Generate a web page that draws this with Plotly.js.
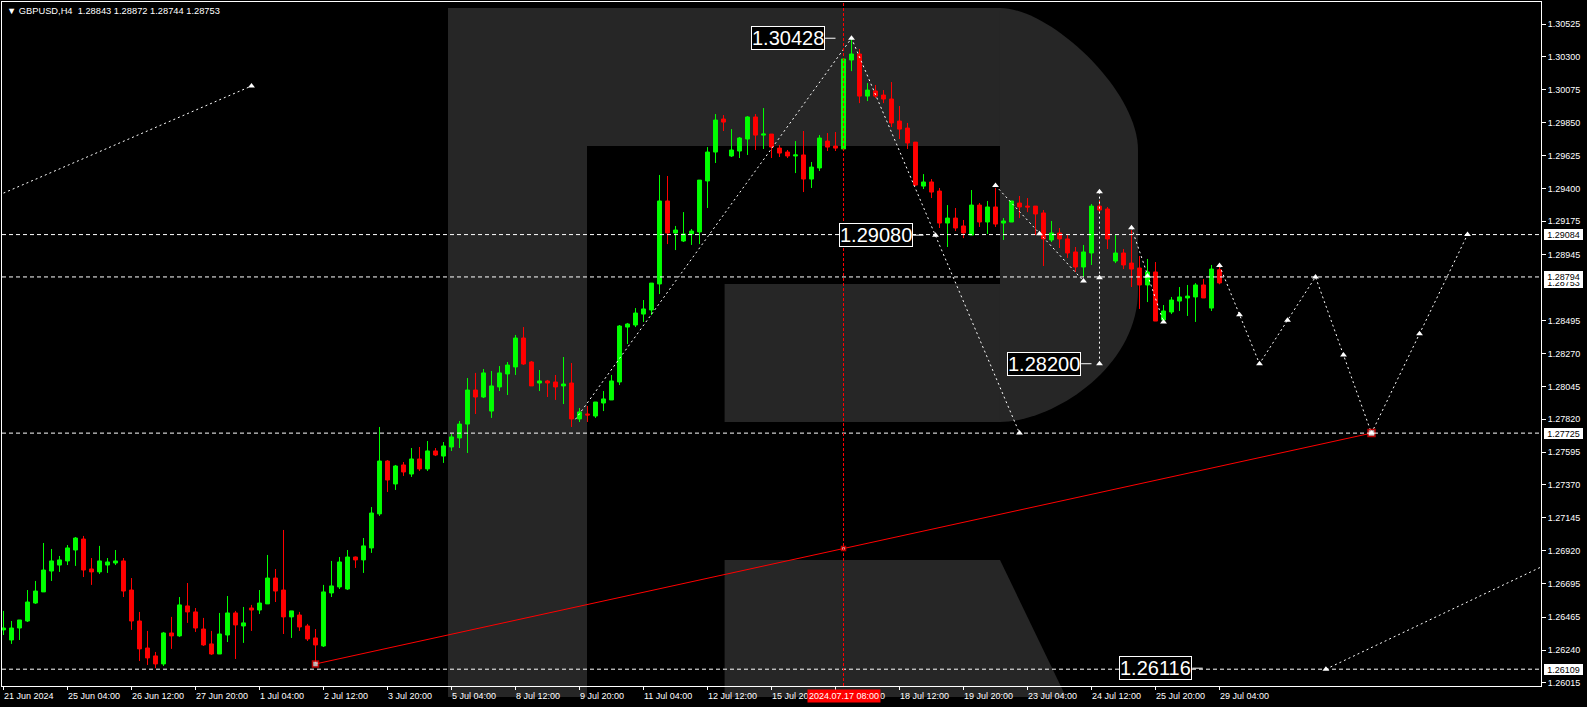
<!DOCTYPE html>
<html><head><meta charset="utf-8">
<script src="https://cdn.plot.ly/plotly-3.0.1.min.js"></script>
<style>html,body{margin:0;padding:0;background:#000;overflow:hidden}#chart{width:1587px;height:707px}</style>
</head><body><div id="chart"></div>
<script>
const symbolName = 'GBPUSD,H4';

const opens = [1.26378,1.26309,1.26391,1.26439,1.26562,1.26638,1.26781,1.26822,1.26850,1.26925,
1.27000,1.26795,1.26775,1.26822,1.26836,1.26850,1.26651,1.26439,1.26254,1.26200,
1.26145,1.26357,1.26337,1.26542,1.26501,1.26384,1.26282,1.26213,1.26343,1.26494,
1.26405,1.26528,1.26514,1.26556,1.26733,1.26651,1.26467,1.26480,1.26405,1.26323,
1.26268,1.26631,1.26672,1.26658,1.26877,1.26857,1.26939,1.27172,1.27534,1.27377,
1.27507,1.27445,1.27548,1.27480,1.27603,1.27568,1.27630,1.27692,1.27787,1.28020,
1.27972,1.27876,1.28041,1.28130,1.28178,1.28376,1.28212,1.28068,1.28082,1.28075,
1.28048,1.28068,1.27822,1.27856,1.27842,1.27931,1.27952,1.28075,1.28451,1.28465,
1.28540,1.28568,1.28746,1.29314,1.29095,1.29040,1.29088,1.29102,1.29451,1.29649,
1.29875,1.29622,1.29656,1.29738,1.29889,1.29765,1.29772,1.29676,1.29649,1.29622,
1.29629,1.29464,1.29540,1.29724,1.29690,1.29670,1.30279,1.30320,1.30032,1.30067,
1.30039,1.30012,1.29861,1.29813,1.29717,1.29416,1.29444,1.29382,1.29163,1.29197,
1.29143,1.29081,1.29286,1.29170,1.29273,1.29163,1.29170,1.29300,1.29279,1.29279,
1.29232,1.29047,1.29095,1.29054,1.28965,1.28862,1.28958,1.29279,1.29259,1.28903,
1.28958,1.28889,1.28855,1.28739,1.28828,1.28499,1.28554,1.28629,1.28650,1.28657,
1.28739,1.28581,1.28843];
const highs = [1.26508,1.26439,1.26446,1.26651,1.26713,1.26973,1.26932,1.26884,1.26959,1.27014,
1.27021,1.26870,1.26953,1.26870,1.26925,1.26870,1.26733,1.26501,1.26371,1.26227,
1.26364,1.26467,1.26603,1.26699,1.26528,1.26460,1.26371,1.26494,1.26610,1.26508,
1.26535,1.26549,1.26651,1.26891,1.26795,1.27062,1.26508,1.26501,1.26419,1.26384,
1.26686,1.26850,1.26877,1.26925,1.26880,1.27007,1.27219,1.27767,1.27540,1.27507,
1.27527,1.27623,1.27630,1.27671,1.27623,1.27664,1.27719,1.27808,1.28102,1.28137,
1.28164,1.28150,1.28184,1.28212,1.28397,1.28451,1.28219,1.28157,1.28089,1.28123,
1.28246,1.28205,1.27897,1.27911,1.27938,1.28013,1.28123,1.28465,1.28479,1.28581,
1.28636,1.28752,1.29492,1.29485,1.29143,1.29238,1.29122,1.29457,1.29683,1.29909,
1.29902,1.29806,1.29752,1.29895,1.29909,1.29950,1.29772,1.29697,1.29663,1.29724,
1.29793,1.29581,1.29765,1.29779,1.29786,1.30286,1.30428,1.30354,1.30121,1.30108,
1.30073,1.30128,1.29964,1.29848,1.29717,1.29498,1.29464,1.29403,1.29286,1.29266,
1.29184,1.29389,1.29300,1.29314,1.29403,1.29197,1.29314,1.29348,1.29334,1.29279,
1.29252,1.29177,1.29129,1.29081,1.28999,1.29013,1.29293,1.29320,1.29273,1.29081,
1.28985,1.29115,1.28937,1.28917,1.28896,1.28602,1.28657,1.28725,1.28739,1.28752,
1.28780,1.28876,1.28872];
const lows = [1.26343,1.26282,1.26309,1.26432,1.26556,1.26638,1.26713,1.26775,1.26822,1.26816,
1.26740,1.26686,1.26761,1.26768,1.26822,1.26603,1.26378,1.26165,1.26138,1.26116,
1.26131,1.26248,1.26330,1.26426,1.26364,1.26268,1.26207,1.26213,1.26295,1.26179,
1.26289,1.26371,1.26487,1.26556,1.26569,1.26350,1.26323,1.26371,1.26302,1.26150,
1.26261,1.26603,1.26658,1.26651,1.26802,1.26768,1.26905,1.27158,1.27322,1.27336,
1.27432,1.27425,1.27466,1.27466,1.27568,1.27521,1.27603,1.27623,1.27589,1.27856,
1.27965,1.27829,1.28013,1.27986,1.28123,1.28191,1.28048,1.28013,1.27972,1.27952,
1.27924,1.27767,1.27801,1.27801,1.27829,1.27876,1.27952,1.28054,1.28335,1.28451,
1.28486,1.28533,1.28677,1.29019,1.28978,1.29033,1.29013,1.29019,1.29266,1.29574,
1.29793,1.29615,1.29608,1.29629,1.29663,1.29670,1.29608,1.29615,1.29608,1.29505,
1.29375,1.29403,1.29519,1.29656,1.29656,1.29670,1.30203,1.29984,1.29998,1.30019,
1.29984,1.29820,1.29738,1.29670,1.29416,1.29396,1.29334,1.29129,1.28999,1.29108,
1.29060,1.29081,1.29136,1.29088,1.29136,1.29047,1.29170,1.29197,1.29238,1.29081,
1.28869,1.29033,1.28992,1.28924,1.28828,1.28794,1.28876,1.29238,1.28985,1.28889,
1.28848,1.28725,1.28575,1.28622,1.28492,1.28492,1.28540,1.28561,1.28527,1.28486,
1.28650,1.28561,1.28744];
const closes = [1.26391,1.26391,1.26446,1.26569,1.26644,1.26788,1.26850,1.26857,1.26939,1.27007,
1.26788,1.26775,1.26850,1.26843,1.26850,1.26644,1.26439,1.26248,1.26186,1.26145,
1.26357,1.26337,1.26549,1.26501,1.26391,1.26275,1.26213,1.26350,1.26494,1.26412,
1.26426,1.26514,1.26562,1.26733,1.26644,1.26467,1.26508,1.26398,1.26316,1.26275,
1.26638,1.26679,1.26843,1.26877,1.26857,1.26953,1.27178,1.27534,1.27404,1.27500,
1.27459,1.27548,1.27480,1.27603,1.27575,1.27637,1.27699,1.27787,1.28020,1.27972,
1.28137,1.28048,1.28137,1.28191,1.28376,1.28198,1.28048,1.28082,1.28068,1.28041,
1.28061,1.27822,1.27870,1.27849,1.27938,1.27959,1.28082,1.28458,1.28472,1.28547,
1.28575,1.28752,1.29314,1.29095,1.29115,1.29088,1.29108,1.29457,1.29649,1.29868,
1.29854,1.29663,1.29745,1.29889,1.29765,1.29772,1.29683,1.29642,1.29622,1.29629,
1.29464,1.29546,1.29745,1.29683,1.29676,1.30286,1.30320,1.30032,1.30073,1.30032,
1.30012,1.29848,1.29806,1.29711,1.29423,1.29444,1.29375,1.29163,1.29197,1.29129,
1.29095,1.29286,1.29170,1.29273,1.29156,1.29177,1.29314,1.29273,1.29273,1.29225,
1.29054,1.29095,1.29054,1.28958,1.28862,1.28965,1.29279,1.29252,1.29054,1.28958,
1.28876,1.28848,1.28739,1.28828,1.28492,1.28561,1.28636,1.28657,1.28663,1.28739,
1.28650,1.28848,1.28753];

const timeLabels = ['21 Jun 2024','25 Jun 04:00','26 Jun 12:00','27 Jun 20:00','1 Jul 04:00','2 Jul 12:00',
 '3 Jul 20:00','5 Jul 04:00','8 Jul 12:00','9 Jul 20:00','11 Jul 04:00','12 Jul 12:00','15 Jul 20:00',
 '17 Jul 04:00','18 Jul 12:00','19 Jul 20:00','23 Jul 04:00','24 Jul 12:00','25 Jul 20:00','29 Jul 04:00'];
const barsPerLabel = 8;
const priceTicks = [1.30525,1.30300,1.30075,1.29850,1.29625,1.29400,1.29175,1.28945,1.28495,
 1.28270,1.28045,1.27820,1.27595,1.27370,1.27145,1.26920,1.26695,1.26465,1.26240,1.26015];

const levels = [1.29084, 1.28794, 1.27725, 1.26109];
const axisBoxes = [1.28753, 1.29084, 1.28794, 1.27725, 1.26109];
const markedTimeBar = 105;
const markedTimeText = '2024.07.17 08:00';

const upperChannelX = [0, 31], upperChannelY = [1.29368, 1.30101];
const lowerChannelX = [165.3, 192.1], lowerChannelY = [1.26109, 1.26806];
const waveX = [71.5, 106, 127], waveY = [1.27820, 1.30428, 1.27725];
const swingX = [124, 135], swingY = [1.29420, 1.28766];
const rangeX = [137, 137], rangeY = [1.29378, 1.28200];
const dropX = [141, 145], dropY = [1.29131, 1.28486];
const forecastX = [152, 157, 164, 171, 183], forecastY = [1.28872, 1.28200, 1.28794, 1.27725, 1.29084];
const pointX = [31,106,116.5,127,124,129.5,135,137,137,137,141,143,145,152,154.5,157,160.5,164,167.5,171,177,183,165.3];
const pointY = [1.30101,1.30428,1.29080,1.27725,1.29420,1.29090,1.28766,1.29378,1.28789,1.28200,1.29131,1.28800,1.28486,
 1.28872,1.28536,1.28200,1.28497,1.28794,1.28260,1.27725,1.28405,1.29084,1.26109];
const trendX = [39, 105, 171], trendY = [1.26145, 1.26935, 1.27725];

const priceLabels = ['1.30428','1.29080','1.28200','1.26116'];
const priceLabelValues = [1.30428, 1.29080, 1.28200, 1.26116];

// ---------- layout geometry ----------
const W = 1587, H = 707, ML = 2, MR = 46, MT = 2, MB = 21;
const PW = W - ML - MR, PH = H - MT - MB;
const px = x => (x - ML) / PW;
const py = y => (H - MB - y) / PH;
const font = 'Liberation Sans, Arial, sans-serif';

const bars = opens.map((_, i) => i);
const labelRightBars = [102.7, 113.7, 134.7, 148.6];

const traces = [];
traces.push({
  type: 'candlestick', x: bars, open: opens, high: highs, low: lows, close: closes,
  increasing: {line: {color: '#00ff00', width: 1}, fillcolor: '#00ff00'},
  decreasing: {line: {color: '#ff0000', width: 1}, fillcolor: '#ff0000'},
  whiskerwidth: 0, hoverinfo: 'skip', showlegend: false
});
traces.push({type: 'scatter', mode: 'lines', x: [trendX[0], trendX[2]], y: [trendY[0], trendY[2]],
  line: {color: '#ff0000', width: 1}, hoverinfo: 'skip', showlegend: false});
const dotLine = {color: '#ffffff', width: 1, dash: '2px,3px'};
[[upperChannelX, upperChannelY], [lowerChannelX, lowerChannelY], [waveX, waveY], [swingX, swingY],
 [rangeX, rangeY], [dropX, dropY], [forecastX, forecastY]].forEach(([xs, ys]) => {
  traces.push({type: 'scatter', mode: 'lines', x: xs, y: ys, line: dotLine, hoverinfo: 'skip', showlegend: false});
});
traces.push({type: 'scatter', mode: 'markers', x: pointX, y: pointY,
  marker: {symbol: 'triangle-up', size: 6, color: '#ffffff', line: {width: 0}}, hoverinfo: 'skip', showlegend: false});
traces.push({type: 'scatter', mode: 'markers', x: trendX, y: trendY,
  marker: {symbol: 'square', size: [6, 4, 7], color: '#ffffff', line: {color: '#ff0000', width: 1.5}}, hoverinfo: 'skip', showlegend: false});

// ---------- shapes ----------
const shapes = [];
const gray = '#262626';
function rectPx(x0, y0, x1, y1) {
  return {type: 'rect', xref: 'paper', yref: 'paper', x0: px(x0), x1: px(x1), y0: py(y1), y1: py(y0),
    fillcolor: gray, line: {width: 0}, layer: 'below'};
}
function pathPx(cmds) {
  const s = cmds.map(c => {
    if (typeof c === 'string') return c;
    return px(c[0]).toFixed(5) + ',' + py(c[1]).toFixed(5);
  });
  return {type: 'path', xref: 'paper', yref: 'paper', path: s.join(' '), fillcolor: gray, line: {width: 0}, layer: 'below'};
}
shapes.push(rectPx(448, 8, 587, 697));
shapes.push(rectPx(586, 8, 1001, 146));
shapes.push(rectPx(724.6, 284, 1001, 422));
shapes.push(pathPx(['M', [1000, 8], 'C', [1050, 8], [1138, 90], [1138, 150], 'L', [1138, 290],
  'C', [1138, 370], [1050, 422], [1000, 422], 'Z']));
shapes.push(pathPx(['M', [724.6, 560], 'L', [1000, 560], 'L', [1066, 697], 'L', [724.6, 697], 'Z']));

levels.forEach(v => shapes.push({type: 'line', xref: 'paper', x0: 0, x1: 1, yref: 'y', y0: v, y1: v,
  line: {color: '#ffffff', width: 1, dash: '4px,3px'}, layer: 'above'}));
shapes.push({type: 'line', xref: 'x', x0: markedTimeBar, x1: markedTimeBar, yref: 'paper', y0: 0, y1: 1,
  line: {color: '#ff0000', width: 1, dash: '3px,2px'}, layer: 'above'});
priceLabelValues.forEach((v, i) => shapes.push({type: 'line', xref: 'x', x0: labelRightBars[i], x1: labelRightBars[i] + 1.3,
  yref: 'y', y0: v, y1: v, line: {color: '#ffffff', width: 1}, layer: 'above'}));

// ---------- annotations ----------
const ann = [];
const last = opens.length - 1;
const nb = '\u00a0';
ann.push({xref: 'paper', yref: 'paper', x: px(5), y: py(11), xanchor: 'left', yanchor: 'middle', showarrow: false,
  text: '▼' + nb + symbolName + nb + nb + opens[last].toFixed(5) + nb + highs[last].toFixed(5) + nb + lows[last].toFixed(5) + nb + closes[last].toFixed(5),
  font: {family: font, size: 9.3, color: '#ffffff'}});
timeLabels.forEach((t, k) => ann.push({xref: 'x', yref: 'paper', x: k * barsPerLabel, y: py(695.5), xanchor: 'left', yanchor: 'middle',
  xshift: -2, showarrow: false, text: t, font: {family: font, size: 9, color: '#ffffff'}}));
ann.push({xref: 'x', yref: 'paper', x: markedTimeBar, y: py(695.5), xanchor: 'center', yanchor: 'middle', showarrow: false,
  text: markedTimeText, bgcolor: '#ff0000', borderpad: 1, font: {family: font, size: 9, color: '#ffffff'}});
axisBoxes.forEach(v => ann.push({xref: 'paper', yref: 'y', x: px(1544), y: v, xanchor: 'left', yanchor: 'middle', showarrow: false,
  text: v.toFixed(5), bgcolor: '#ffffff', bordercolor: '#ffffff', borderwidth: 1, borderpad: 0, width: 37, height: 9, align: 'center',
  font: {family: font, size: 9, color: '#000000'}}));
priceLabels.forEach((t, i) => ann.push({xref: 'x', yref: 'y', x: labelRightBars[i], y: priceLabelValues[i], xanchor: 'right', yanchor: 'middle',
  showarrow: false, text: t, bgcolor: '#000000', bordercolor: '#ffffff', borderwidth: 1, borderpad: 0,
  font: {family: font, size: 20, color: '#ffffff'}}));

const layout = {
  width: W, height: H, autosize: false,
  margin: {l: ML, r: MR, t: MT, b: MB, pad: 0},
  paper_bgcolor: '#000000', plot_bgcolor: '#000000',
  showlegend: false, dragmode: false, hovermode: false,
  xaxis: {type: 'linear', range: [-0.1875, 192.1875], rangeslider: {visible: false},
    tickvals: timeLabels.map((_, k) => k * barsPerLabel), ticks: 'outside', ticklen: 3, tickcolor: '#ffffff', tickwidth: 1,
    showticklabels: false, showline: true, linecolor: '#ffffff', linewidth: 1, mirror: true,
    showgrid: false, zeroline: false, fixedrange: true},
  yaxis: {side: 'right', range: [1.25994, 1.30676], tickvals: priceTicks, ticktext: priceTicks.map(v => v.toFixed(5)),
    ticks: 'outside', ticklen: 4, tickcolor: '#ffffff', tickwidth: 1,
    tickfont: {family: font, size: 9, color: '#ffffff'},
    showline: true, linecolor: '#ffffff', linewidth: 1, mirror: true,
    showgrid: false, zeroline: false, fixedrange: true},
  shapes: shapes,
  annotations: ann
};
Plotly.newPlot('chart', traces, layout, {displayModeBar: false, staticPlot: true});
</script>
</body></html>
